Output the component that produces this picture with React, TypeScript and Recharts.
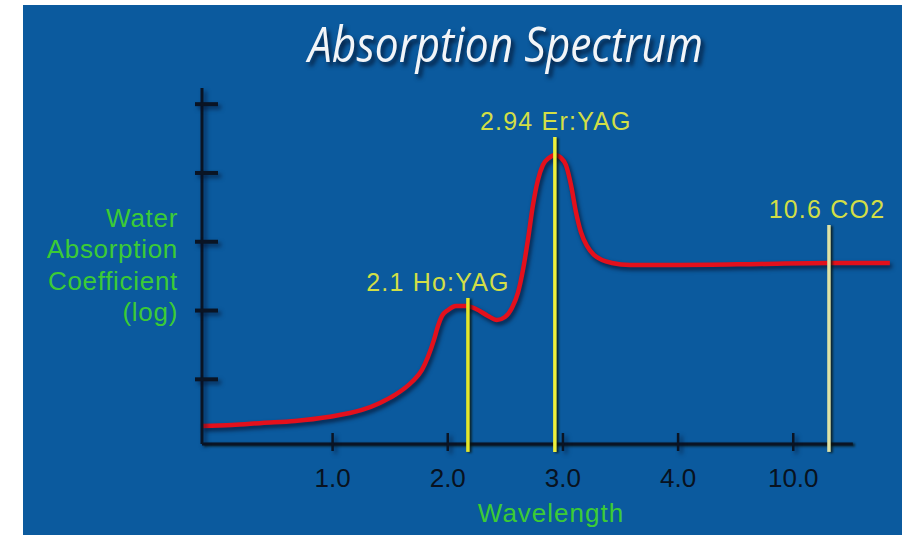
import { Line, LineChart, ReferenceLine, XAxis, YAxis } from "recharts";

// x positions are axis slots: 1..4 = 1.0..4.0 µm, 5 = 10.0 µm (the axis is broken)
const X_TICKS = [1, 2, 3, 4, 5];
const X_TICK_LABELS = ["1.0", "2.0", "3.0", "4.0", "10.0"];
const Y_TICKS = [1, 2, 3, 4, 5];

const WAVE_POS = [
  -0.134, 0.127, 0.387, 0.674, 0.96, 1.255, 1.411, 1.541, 1.688, 1.776, 1.828,
  1.88, 1.915, 1.95, 2.003, 2.071, 2.158, 2.245, 2.349, 2.427, 2.497, 2.557,
  2.609, 2.653, 2.696, 2.74, 2.783, 2.826, 2.878, 2.931, 2.983, 3.026, 3.07,
  3.113, 3.156, 3.209, 3.269, 3.339, 3.425, 3.582, 4.016, 4.71, 5.308, 5.839,
];
const ABSORPTION = [
  0.323, 0.337, 0.366, 0.395, 0.453, 0.555, 0.657, 0.773, 0.962, 1.137, 1.326,
  1.573, 1.776, 1.922, 2.009, 2.067, 2.067, 2.023, 1.922, 1.864, 1.907, 2.038,
  2.256, 2.59, 3.026, 3.535, 3.898, 4.116, 4.218, 4.262, 4.218, 4.116, 3.826,
  3.433, 3.142, 2.939, 2.808, 2.735, 2.692, 2.663, 2.663, 2.677, 2.692, 2.692,
];

const LASER_LABELS = ["2.1 Ho:YAG", "2.94 Er:YAG", "10.6 CO2"];
const LASER_POS = [2.175, 2.93, 5.31];
const LASER_TOP = [2.183, 4.523, 3.244];
const LASER_COLORS = ["#e4e62a", "#eef03c", "#dfe3a6"];
const LASER_LABEL_SHIFT = [-30, 1, -2];

const Y_LABEL_LINES = ["Water", "Absorption", "Coefficient", "(log)"];

const X_DOMAIN: [number, number] = [-0.134, 5.84];
const Y_DOMAIN: [number, number] = [0.06, 5.235];
const X_AXIS_END = 5.517;
const LINE_BOTTOM = -0.055;

const AXIS_COLOR = "#0a1424";
const FONT = "Arial, 'Liberation Sans', sans-serif";

const data = WAVE_POS.map((pos, i) => ({ pos, value: ABSORPTION[i] }));

function YTick({ x, y }: { x?: number; y?: number }) {
  if (x == null || y == null) return null;
  return (
    <line x1={x - 7} x2={x + 16} y1={y} y2={y} stroke={AXIS_COLOR} strokeWidth={4} className="axis-shadow" />
  );
}

function XTick({ x, y, payload }: { x?: number; y?: number; payload?: { value: number; index: number } }) {
  if (x == null || y == null || !payload) return null;
  const idx = X_TICKS.indexOf(payload.value);
  return (
    <g>
      <line x1={x} x2={x} y1={y - 11} y2={y + 7} stroke={AXIS_COLOR} strokeWidth={2.5} className="axis-shadow" />
      <text x={x} y={y + 43} textAnchor="middle" fill="#081220" fontSize={26} fontFamily={FONT}>
        {X_TICK_LABELS[idx]}
      </text>
    </g>
  );
}

function laserLabel(i: number) {
  return (props: { viewBox?: { x: number; y: number } }) => {
    const vb = props.viewBox;
    if (!vb) return null;
    return (
      <text
        x={vb.x + LASER_LABEL_SHIFT[i]}
        y={vb.y - 7}
        textAnchor="middle"
        fill="#d2de46"
        fontSize={25}
        letterSpacing={1.2}
        fontFamily={FONT}
      >
        {LASER_LABELS[i]}
      </text>
    );
  };
}

export default function App() {
  return (
    <div style={{ position: "relative", width: 902, height: 535, background: "#ffffff" }}>
      <style>{`
        body { margin: 0; }
        .recharts-line-curve { filter: drop-shadow(2px 3px 2px rgba(5, 15, 40, 0.75)); }
        .axis-shadow, .recharts-cartesian-axis-line { filter: drop-shadow(3px 3px 2px rgba(5, 15, 40, 0.6)); }
        .recharts-reference-line-line { filter: drop-shadow(2px 1px 1px rgba(10, 20, 10, 0.8)); }
      `}</style>
      <div
        style={{ position: "absolute", left: 23, top: 5, width: 879, height: 530, background: "#0b5a9e" }}
      />
      <svg
        width={902}
        height={535}
        style={{ position: "absolute", left: 0, top: 0, pointerEvents: "none" }}
      >
        <text
          x={308}
          y={62}
          fill="#f3f5f8"
          fontSize={50}
          fontStyle="italic"
          fontWeight={400}
          fontFamily="'Open Sans', sans-serif"
          textLength={395}
          lengthAdjust="spacingAndGlyphs"
          style={{ filter: "drop-shadow(3px 4px 2px rgba(4, 22, 50, 0.9))" }}
        >
          Absorption Spectrum
        </text>
        {Y_LABEL_LINES.map((line, i) => (
          <text
            key={line}
            x={178}
            y={227 + i * 31.3}
            textAnchor="end"
            fill="#3ccb35"
            fontSize={26}
            letterSpacing={0.7}
            fontFamily={FONT}
          >
            {line}
          </text>
        ))}
        <text
          x={551}
          y={522}
          textAnchor="middle"
          fill="#3ccb35"
          fontSize={26}
          letterSpacing={1}
          fontFamily={FONT}
        >
          Wavelength
        </text>
      </svg>
      <div style={{ position: "absolute", left: 0, top: 0 }}>
        <LineChart
          width={902}
          height={535}
          data={data}
          margin={{ top: 88, right: 12, bottom: 61, left: 142 }}
        >
          <XAxis
            type="number"
            dataKey="pos"
            domain={X_DOMAIN}
            ticks={X_TICKS}
            axisLine={false}
            tickLine={false}
            tickSize={0}
            tickMargin={0}
            height={30}
            tick={<XTick />}
            interval={0}
          />
          <YAxis
            type="number"
            domain={Y_DOMAIN}
            ticks={Y_TICKS}
            width={60}
            axisLine={{ stroke: AXIS_COLOR, strokeWidth: 3 }}
            tickLine={false}
            tickSize={0}
            tickMargin={0}
            tick={<YTick />}
            interval={0}
          />
          <ReferenceLine
            segment={[
              { x: X_DOMAIN[0], y: Y_DOMAIN[0] },
              { x: X_AXIS_END, y: Y_DOMAIN[0] },
            ]}
            stroke={AXIS_COLOR}
            strokeWidth={3}
            ifOverflow="visible"
          />
          <Line
            type="monotone"
            dataKey="value"
            stroke="#e3101c"
            strokeWidth={4.5}
            dot={false}
            activeDot={false}
            isAnimationActive={false}
          />
          {LASER_POS.map((pos, i) => (
            <ReferenceLine
              key={LASER_LABELS[i]}
              segment={[
                { x: pos, y: LINE_BOTTOM },
                { x: pos, y: LASER_TOP[i] },
              ]}
              stroke={LASER_COLORS[i]}
              strokeWidth={3.5}
              ifOverflow="visible"
              label={laserLabel(i)}
            />
          ))}
        </LineChart>
      </div>
    </div>
  );
}
